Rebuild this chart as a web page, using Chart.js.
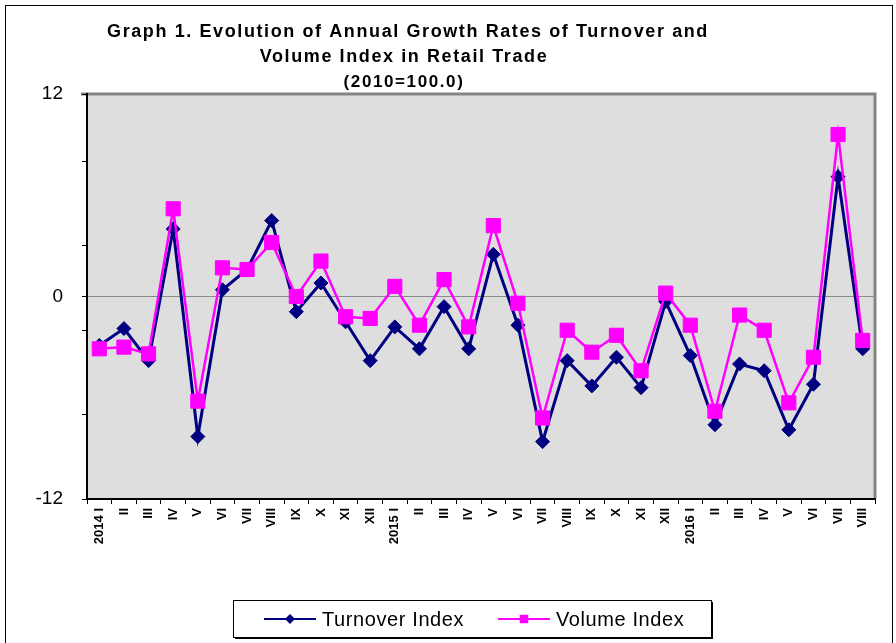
<!DOCTYPE html>
<html>
<head>
<meta charset="utf-8">
<script src="https://cdn.jsdelivr.net/npm/chart.js@4/dist/chart.umd.min.js"></script>
<style>
  html, body { margin: 0; padding: 0; background: #fff; }
  #wrap { width: 896px; height: 643px; }
</style>
</head>
<body>
<div id="wrap"><canvas id="chart" width="896" height="643"></canvas></div>
<script>
const months = [
  '2014 I', 'II', 'III', 'IV', 'V', 'VI', 'VII', 'VIII', 'IX', 'X', 'XI', 'XII',
  '2015 I', 'II', 'III', 'IV', 'V', 'VI', 'VII', 'VIII', 'IX', 'X', 'XI', 'XII',
  '2016 I', 'II', 'III', 'IV', 'V', 'VI', 'VII', 'VIII'
];
const turnover = [
  -2.9, -1.9, -3.8, 4.0, -8.3, 0.4, 1.6, 4.5, -0.9, 0.8, -1.5, -3.8,
  -1.8, -3.1, -0.6, -3.1, 2.5, -1.7, -8.6, -3.8, -5.3, -3.6, -5.4, -0.3,
  -3.5, -7.6, -4.0, -4.4, -7.9, -5.2, 7.1, -3.1
];
const volume = [
  -3.1, -3.0, -3.4, 5.2, -6.2, 1.7, 1.6, 3.2, 0.0, 2.1, -1.2, -1.3,
  0.6, -1.7, 1.0, -1.8, 4.2, -0.4, -7.2, -2.0, -3.3, -2.3, -4.4, 0.2,
  -1.7, -6.8, -1.1, -2.0, -6.3, -3.6, 9.6, -2.6
];
const yTickValues = [-12, -7, -2, 0, 3, 8, 12];
const yTickLabels = [-12, 0, 12];
const titleLines = [
  'Graph 1. Evolution of Annual Growth Rates of Turnover and',
  'Volume Index in Retail Trade',
  '(2010=100.0)'
];

const FONT = '"Liberation Sans", Arial, sans-serif';

// grey plot area, frame, title and the boxed legend
const decor = {
  id: 'decor',
  beforeDraw(chart) {
    const { ctx, chartArea: a } = chart;
    ctx.save();
    ctx.fillStyle = '#fff';
    ctx.fillRect(0, 0, chart.width, chart.height);
    ctx.strokeStyle = '#000';
    ctx.lineWidth = 1;
    ctx.strokeRect(5.5, 5.5, 887, 700);
    ctx.fillStyle = '#dedede';
    ctx.fillRect(a.left, a.top, a.right - a.left, a.bottom - a.top);
    ctx.strokeStyle = '#858585';
    ctx.lineWidth = 3;
    ctx.beginPath();
    ctx.moveTo(a.left - 6, a.top);
    ctx.lineTo(a.right, a.top);
    ctx.lineTo(a.right, a.bottom);
    ctx.stroke();
    ctx.restore();
  },
  afterDraw(chart) {
    const ctx = chart.ctx;
    ctx.save();
    ctx.fillStyle = '#000';
    ctx.textAlign = 'center';
    ctx.textBaseline = 'middle';
    ctx.letterSpacing = '1.6px';
    ctx.font = 'bold 18px ' + FONT;
    ctx.fillText(titleLines[0], 408, 32);
    ctx.fillText(titleLines[1], 404, 57);
    ctx.font = 'bold 17px ' + FONT;
    ctx.fillText(titleLines[2], 404, 82);

    // legend
    const bx = 233, by = 600, bw = 478, bh = 37;
    ctx.fillStyle = '#000';
    ctx.fillRect(bx + 2, by + 2, bw, bh);
    ctx.fillStyle = '#fff';
    ctx.fillRect(bx, by, bw, bh);
    ctx.strokeStyle = '#000';
    ctx.lineWidth = 1;
    ctx.strokeRect(bx + 0.5, by + 0.5, bw, bh);

    const items = [
      { ds: chart.data.datasets[0], x: 264 },
      { ds: chart.data.datasets[1], x: 498 }
    ];
    const cy = by + 19;
    ctx.textAlign = 'left';
    ctx.letterSpacing = '0.6px';
    ctx.font = '20px ' + FONT;
    items.forEach(it => {
      ctx.strokeStyle = it.ds.borderColor;
      ctx.lineWidth = 2;
      ctx.beginPath();
      ctx.moveTo(it.x, cy);
      ctx.lineTo(it.x + 52, cy);
      ctx.stroke();
      ctx.fillStyle = it.ds.pointBackgroundColor;
      Chart.helpers.drawPoint(ctx, {
        pointStyle: it.ds.pointStyle,
        radius: it.ds.pointStyle === 'rect' ? 6 : 5,
        borderWidth: 0
      }, it.x + 26, cy);
      ctx.fillStyle = '#000';
      ctx.fillText(it.ds.label, it.x + 58, cy + 1);
    });
    ctx.restore();
  }
};

new Chart(document.getElementById('chart'), {
  type: 'line',
  data: {
    labels: months,
    datasets: [
      {
        label: 'Turnover Index',
        data: turnover,
        borderColor: '#000080',
        backgroundColor: '#000080',
        pointBackgroundColor: '#000080',
        pointBorderColor: '#000080',
        borderWidth: 3,
        pointStyle: 'rectRot',
        pointRadius: 7,
        pointBorderWidth: 1,
        tension: 0,
        order: 1
      },
      {
        label: 'Volume Index',
        data: volume,
        borderColor: '#ff00ff',
        backgroundColor: '#ff00ff',
        pointBackgroundColor: '#ff00ff',
        pointBorderColor: '#ff00ff',
        borderWidth: 2.5,
        pointStyle: 'rect',
        pointRadius: 10,
        pointBorderWidth: 1,
        tension: 0,
        order: 0
      }
    ]
  },
  options: {
    responsive: false,
    animation: false,
    layout: { padding: { left: 0, top: 94, right: 21, bottom: 0 } },
    plugins: {
      legend: { display: false },
      title: { display: false },
      tooltip: { enabled: false }
    },
    scales: {
      x: {
        offset: true,
        afterFit: s => { s.height = 144; },
        border: { color: '#000', width: 2 },
        grid: {
          offset: true,
          drawOnChartArea: false,
          tickLength: 5,
          tickColor: '#000'
        },
        ticks: {
          autoSkip: false,
          minRotation: 90,
          maxRotation: 90,
          padding: 4,
          color: '#000',
          font: { family: FONT, size: 13, weight: 'bold' }
        }
      },
      y: {
        min: -12,
        max: 12,
        afterFit: s => { s.width = 87; },
        afterBuildTicks: s => { s.ticks = yTickValues.map(v => ({ value: v })); },
        border: { color: '#000', width: 2 },
        grid: {
          color: c => (c.tick && c.tick.value === 0 ? '#8a8a8a' : 'rgba(0,0,0,0)'),
          lineWidth: 1,
          tickLength: 5,
          tickColor: '#000'
        },
        ticks: {
          padding: 19,
          color: '#000',
          font: { family: FONT, size: 19 },
          callback: v => (yTickLabels.includes(v) ? String(v) : '')
        }
      }
    }
  },
  plugins: [decor]
});
</script>
</body>
</html>
